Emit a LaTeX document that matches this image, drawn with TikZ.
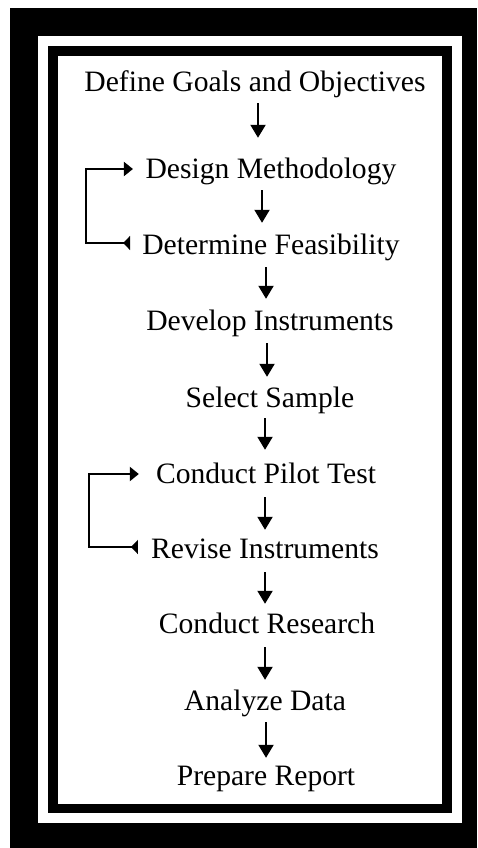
\documentclass[tikz,border=0pt]{standalone}
\usepackage{fontspec}
\setmainfont{Liberation Serif}
\usetikzlibrary{arrows.meta,calc}
\begin{document}
\begin{tikzpicture}[x=1pt,y=-1pt,
  lbl/.style={inner sep=0pt,text height=20pt,text depth=7pt,font=\fontsize{29.6}{35}\selectfont},
  down/.style={line width=2pt,-{Triangle[length=13pt,width=15pt]}},
  fb/.style={line width=2pt,{Triangle[reversed,length=7pt,width=14pt]}-{Triangle[length=9pt,width=14pt]}}]
\useasboundingbox (0,0) rectangle (477,848);
\fill[white] (0,0) rectangle (477,848);
\fill[black] (10,8) rectangle (477,848);
\fill[white] (38,36) rectangle (462,823);
\fill[black] (48,46) rectangle (452,813);
\fill[white] (58,56) rectangle (442,804);

\node[lbl,anchor=base] (n1) at (255,92) {Define Goals and Objectives};
\node[lbl,anchor=base] (n2) at (271,178) {Design Methodology};
\node[lbl,anchor=base] (n3) at (271,254) {Determine Feasibility};
\node[lbl,anchor=base] (n4) at (270,330) {Develop Instruments};
\node[lbl,anchor=base] (n5) at (270,407) {Select Sample};
\node[lbl,anchor=base] (n6) at (266,483) {Conduct Pilot Test};
\node[lbl,anchor=base] (n7) at (265,558) {Revise Instruments};
\node[lbl,anchor=base] (n8) at (267,633) {Conduct Research};
\node[lbl,anchor=base] (n9) at (265,710) {Analyze Data};
\node[lbl,anchor=base] (n10) at (266,785) {Prepare Report};

\draw[down] ($(n1.south)+(3,4)$) -- ($(n2.north)+(-13,-20)$);
\draw[down] ($(n2.south)+(-9,5)$) -- ($(n3.north)+(-9,-11)$);
\draw[down] ($(n3.south)+(-5,6)$) -- ($(n4.north)+(-4,-11)$);
\draw[down] ($(n4.south)+(-3,6)$) -- ($(n5.north)+(-3,-10)$);
\draw[down] ($(n5.south)+(-5,4)$) -- ($(n6.north)+(-1,-13)$);
\draw[down] ($(n6.south)+(-1,7)$) -- ($(n7.north)+(0,-8)$);
\draw[down] ($(n7.south)+(0,7)$) -- ($(n8.north)+(-2,-9)$);
\draw[down] ($(n8.south)+(-2,7)$) -- ($(n9.north)+(0,-10)$);
\draw[down] ($(n9.south)+(1,5)$) -- ($(n10.north)+(0,-7)$);

\draw[fb] ($(n3.west)+(-12,-4.5)$) -- ++(-44,0) |- ($(n2.west)+(-12.5,-2.5)$);
\draw[fb] ($(n7.west)+(-13,-4.5)$) -- ++(-49,0) |- ($(n6.west)+(-17,-2.5)$);
\end{tikzpicture}
\end{document}
